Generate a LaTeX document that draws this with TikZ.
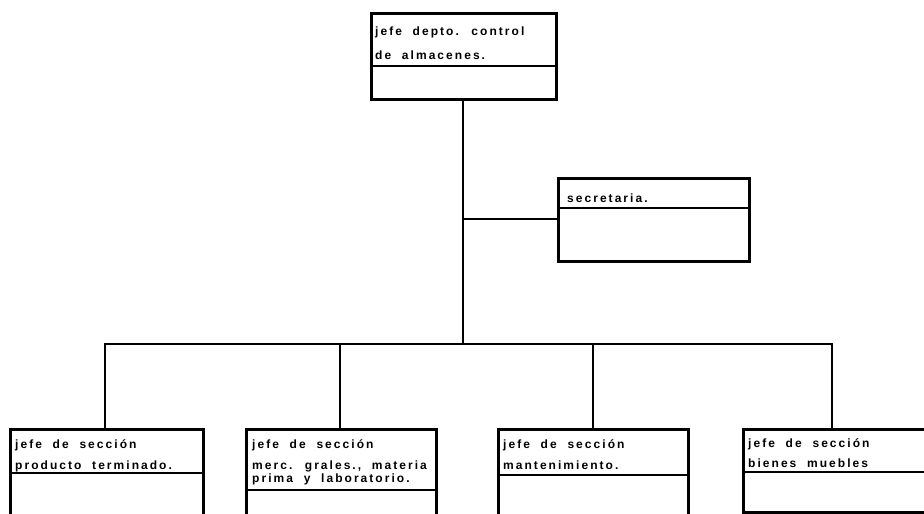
\documentclass[tikz,border=0pt]{standalone}
\usepackage{fontspec}
\setmainfont{Liberation Sans}
\newfontfamily\lettering[LetterSpace=17,WordSpace=2]{Liberation Sans}
\begin{document}
\begin{tikzpicture}[x=1pt,y=-1pt,
  box/.style={draw, line width=2.8pt, rectangle, anchor=north west, inner sep=0pt},
  wire/.style={line width=2.8pt},
  sep/.style={line width=2.4pt},
  lbl/.style={anchor=base west, inner sep=0pt, font=\lettering\bfseries\fontsize{12}{14}\selectfont}]
\useasboundingbox (0,0) rectangle (924,514);
\clip (0,0) rectangle (924,514);
% boxes
\node[box, minimum width=185pt, minimum height=86pt] (top) at (370,12) {};
\node[box, minimum width=191pt, minimum height=83pt] (sec) at (557,177) {};
\node[box, minimum width=193pt, minimum height=90pt] (b1) at (9,428) {};
\node[box, minimum width=190pt, minimum height=90pt] (b2) at (245,428) {};
\node[box, minimum width=190pt, minimum height=90pt] (b3) at (497,428) {};
\node[box, minimum width=200pt, minimum height=83pt] (b4) at (742,428) {};
% dividers
\draw[sep] (top.west |- 0,66) -- (top.east |- 0,66);
\draw[sep] (sec.west |- 0,208) -- (sec.east |- 0,208);
\draw[sep] (b1.west |- 0,473) -- (b1.east |- 0,473);
\draw[sep] (b2.west |- 0,490) -- (b2.east |- 0,490);
\draw[sep] (b3.west |- 0,475) -- (b3.east |- 0,475);
\draw[sep] (b4.west |- 0,472) -- (b4.east |- 0,472);
% labels
\node[lbl] (t1) at (375,35) {jefe depto. control};
\node[lbl] (t2) at (375,59) {de almacenes.};
\node[lbl] (s1) at (567,202) {secretaria.};
\node[lbl] (a1) at (15,448) {jefe de sección};
\node[lbl] (a2) at (15,469) {producto terminado.};
\node[lbl] (c1) at (252,448) {jefe de sección};
\node[lbl] (c2) at (252,469) {merc. grales., materia};
\node[lbl] (c3) at (252,482) {prima y laboratorio.};
\node[lbl] (d1) at (503,448) {jefe de sección};
\node[lbl] (d2) at (503,469) {mantenimiento.};
\node[lbl] (e1) at (748,447) {jefe de sección};
\node[lbl] (e2) at (748,467) {bienes muebles};
% connectors
\coordinate (bus) at (463,344);
\coordinate (bl) at (105,344);
\coordinate (br) at (832,344);
\coordinate (j) at (463,219);
\draw[wire] (top.south -| bus) -- (bus);
\draw[wire] (j) -- (j -| sec.west);
\draw[wire, line cap=rect] (bl) -- (br);
\draw[wire] (bl) -- (bl |- b1.north);
\draw[wire] (340,344) -- (340,428);
\draw[wire] (593,344) -- (593,428);
\draw[wire] (br) -- (br |- b4.north);
\end{tikzpicture}
\end{document}
